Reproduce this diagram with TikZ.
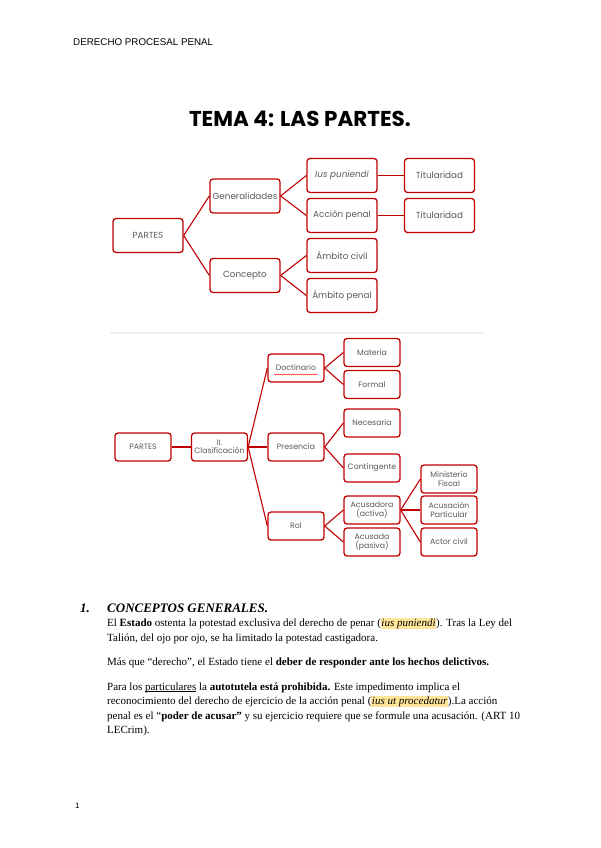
\documentclass[tikz,border=0pt]{standalone}
\usepackage{fontspec}
\setmainfont{Liberation Serif}
\newfontfamily\boxfont{Poppins}
\newfontfamily\pagefont{Liberation Sans}
\usetikzlibrary{positioning,calc,decorations.pathmorphing}
\definecolor{boxred}{HTML}{C00000}
\definecolor{boxtext}{HTML}{595959}
\definecolor{hlyellow}{HTML}{FFE599}
\newcommand{\hlword}[1]{{\setlength{\fboxsep}{0.6pt}\colorbox{hlyellow}{#1}}}
\newcommand{\ulword}[1]{\leavevmode\setbox0\hbox{#1}\rlap{\vrule height -1.3pt depth 1.9pt width \wd0}\box0\relax}

\begin{document}
\begin{tikzpicture}[
  x=1pt, y=-1pt,
  line/.style={draw=boxred, line width=1.1pt},
  part/.style={
    draw=boxred, line width=1.3pt, rounded corners=3pt, fill=white,
    align=center, text=boxtext, inner sep=1pt,
    minimum width=70pt, minimum height=34pt,
    font=\boxfont\fontsize{8.8}{10}\selectfont
  },
  small/.style={
    part, minimum width=56pt, minimum height=28pt,
    font=\boxfont\fontsize{7.8}{8.4}\selectfont
  },
  body/.style={anchor=base west, inner sep=0pt, font=\fontsize{11}{13}\selectfont},
  spell/.style={draw=red, line width=0.4pt,
    decorate, decoration={snake, amplitude=0.5pt, segment length=2pt}}
]

% Page
\fill[white] (0,0) rectangle (600,848);
\useasboundingbox (0,0) rectangle (600,848);

% Header and title
\node[anchor=base west, inner sep=0pt, font=\pagefont\fontsize{9.8}{11}\selectfont] (head) at (73,46) {DERECHO PROCESAL PENAL};
\node[anchor=base, inner sep=0pt, font=\boxfont\bfseries\fontsize{21.5}{25}\selectfont] (title) at (300,126) {TEMA 4: LAS PARTES.};

% First map
\node[part] (partesA) at (148,235.5) {PARTES};
\node[part] (gen) at (245,196) {Generalidades};
\node[part] (conc) at (245,275.5) {Concepto};
\node[part] (ius) at (342,175.5) {\itshape Ius puniendi};
\node[part] (accion) at (342,215.5) {Acción penal};
\node[part] (titA) at (439.5,175.5) {Titularidad};
\node[part] (titB) at (439.5,215.5) {Titularidad};
\node[part] (civil) at (342,255.5) {Ámbito civil};
\node[part] (penal) at (342,295.5) {Ámbito penal};

\draw[line] (partesA.east) -- (gen.west);
\draw[line] (partesA.east) -- (conc.west);
\draw[line] (gen.east) -- (ius.west);
\draw[line] (gen.east) -- (accion.west);
\draw[line] (ius.east) -- (titA.west);
\draw[line] (accion.east) -- (titB.west);
\draw[line] (conc.east) -- (civil.west);
\draw[line] (conc.east) -- (penal.west);

% Separator
\draw[gray!12, line width=1.2pt] (110,333) -- (485,333);

% Second map
\node[small] (partesB) at (143,447) {PARTES};
\node[small] (clas) at (219.5,447) {II.\\Clasificación};
\node[small] (doct) at (296,368) {Doctinario};
\node[small] (pres) at (296,447) {Presencia};
\node[small] (rol) at (296,526) {Rol};
\node[small] (mat) at (372,352.5) {Materia};
\node[small] (form) at (372,384.5) {Formal};
\node[small] (nec) at (372,423) {Necesaria};
\node[small] (cont) at (372,468) {Contingente};
\node[small] (acusa) at (372,510) {Acusadora\\(activa)};
\node[small] (acusada) at (372,542) {Acusada\\(pasiva)};
\node[small] (fiscal) at (449,479) {Ministerio\\Fiscal};
\node[small] (partic) at (449,510) {Acusación\\Particular};
\node[small] (actor) at (449,542) {Actor civil};

\draw[spell] ($(doct.center)+(-22,6.5)$) -- ($(doct.center)+(22,6.5)$);

\draw[line] (partesB.east) -- (clas.west);
\draw[line] (clas.east) -- (doct.west);
\draw[line] (clas.east) -- (pres.west);
\draw[line] (clas.east) -- (rol.west);
\draw[line] (doct.east) -- (mat.west);
\draw[line] (doct.east) -- (form.west);
\draw[line] (pres.east) -- (nec.west);
\draw[line] (pres.east) -- (cont.west);
\draw[line] (rol.east) -- (acusa.west);
\draw[line] (rol.east) -- (acusada.west);
\draw[line] (acusa.east) -- (fiscal.west);
\draw[line] (acusa.east) -- (partic.west);
\draw[line] (acusa.east) -- (actor.west);

% Text
\node[body, font=\bfseries\itshape\fontsize{13}{15}\selectfont] (num) at (80,612) {1.};
\node[body, font=\bfseries\itshape\fontsize{13}{15}\selectfont] (sec) at (107,612) {CONCEPTOS GENERALES.};
\node[body] (l1) at (107,626) {El \textbf{Estado} ostenta la potestad exclusiva del derecho de penar (\hlword{\textit{ius puniendi}}). Tras la Ley del};
\node[body] (l2) at (107,641) {Talión, del ojo por ojo, se ha limitado la potestad castigadora.};
\node[body] (l3) at (107,665) {Más que “derecho”, el Estado tiene el \textbf{deber de responder ante los hechos delictivos.}};
\node[body] (l4) at (107,690) {Para los \ulword{particulares} la \textbf{autotutela está prohibida.} Este impedimento implica el};
\node[body] (l5) at (107,704) {reconocimiento del derecho de ejercicio de la acción penal (\hlword{\textit{ius ut procedatur}}).La acción};
\node[body] (l6) at (107,719) {penal es el “\textbf{poder de acusar”} y su ejercicio requiere que se formule una acusación. (ART 10};
\node[body] (l7) at (107,733) {LECrim).};

% Page number
\node[anchor=base west, inner sep=0pt, font=\pagefont\fontsize{8}{10}\selectfont] (page) at (75,808) {1};

\end{tikzpicture}
\end{document}
